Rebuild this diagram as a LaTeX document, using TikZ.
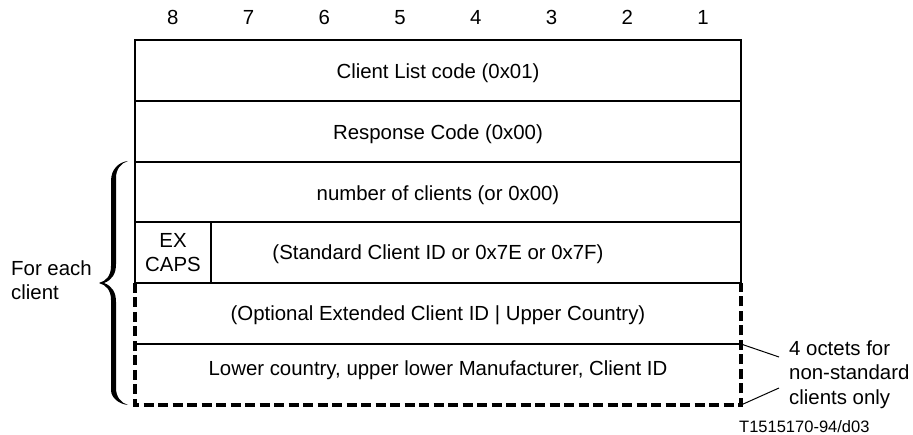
\documentclass[tikz,border=0pt]{standalone}
\usepackage{fontspec}
\setmainfont{Liberation Sans}
\begin{document}
\begin{tikzpicture}[x=1pt,y=-1pt,
  lbl/.style={font=\fontsize{20.4}{24.5}\selectfont, inner sep=0pt},
  smalllbl/.style={font=\fontsize{16.5}{19}\selectfont, inner sep=0pt},
  outerline/.style={line width=1.2pt},
  divider/.style={line width=2pt},
  dashedge/.style={line width=3.5pt, dash pattern=on 10pt off 4.5pt, line join=miter},
  leader/.style={line width=1pt}]
\useasboundingbox (0,0) rectangle (913,435);
% corners
\coordinate (tl) at (135,40);
\coordinate (tr) at (741,40);
\coordinate (ml) at (135,283);
\coordinate (mr) at (741,283);
\coordinate (dl) at (135,344);
\coordinate (dr) at (741,344);
\coordinate (bl) at (135,405);
\coordinate (br) at (741,405);
% bit numbers
\foreach \i in {1,...,8} {
  \node[lbl, anchor=base] (b\i) at ({135+75.75*(8-\i)+37.875}, 24.5) {\i};
}
% frame
\draw[outerline] (ml) -- (tl) -- (tr) -- (mr);
\draw[divider] (135,100.8) -- (741,100.8);
\draw[divider] (135,161.7) -- (741,161.7);
\draw[divider] (135,222.5) -- (741,222.5);
\draw[divider] (ml) -- (mr);
\draw[divider] (dl) -- (dr);
\draw[divider] (211,222.5) -- (211,283);
\draw[dashedge] (ml) -- (bl) -- (br) -- (mr);
% row texts
\node[lbl, anchor=base] (r1) at (438, 79) {Client List code (0x01)};
\node[lbl, anchor=base] (r2) at (438, 140) {Response Code (0x00)};
\node[lbl, anchor=base] (r3) at (438, 200.5) {number of clients (or 0x00)};
\node[lbl, align=center] (ex) at (173, 252.5) {EX\\CAPS};
\node[lbl, anchor=base] (r4) at (438, 260) {(Standard Client ID or 0x7E or 0x7F)};
\node[lbl, anchor=base] (r5) at (438, 320.5) {(Optional Extended Client ID | Upper Country)};
\node[lbl, anchor=base] (r6) at (438, 375.5) {Lower country, upper lower Manufacturer, Client ID};
% brace
\fill (128,161) .. controls (119,162) and (111,169) .. (111,181) -- (111,266)
  .. controls (111,276) and (106,281) .. (99,283)
  .. controls (106,285) and (111,290) .. (111,300) -- (111,390)
  .. controls (111,398) and (119,404) .. (128,405)
  .. controls (121,403) and (116,397) .. (116,388) -- (116,302)
  .. controls (116,292) and (112,286) .. (104,283)
  .. controls (112,280) and (116,274) .. (116,264) -- (116,178)
  .. controls (116,169) and (121,163) .. (128,161) -- cycle;
\node[lbl, align=left, anchor=north west] (each) at (11, 260.4) {For each\\client};
% note
\node[lbl, align=left, anchor=north west] (note) at (789, 340.4) {4 octets for\\non-standard\\clients only};
\coordinate (lt) at (779,357);
\coordinate (lb) at (779,388);
\draw[leader] (dr) -- (lt);
\draw[leader] (br) -- (lb);
\node[smalllbl, anchor=base west] (ref) at (739, 432) {T1515170-94/d03};
\end{tikzpicture}
\end{document}
